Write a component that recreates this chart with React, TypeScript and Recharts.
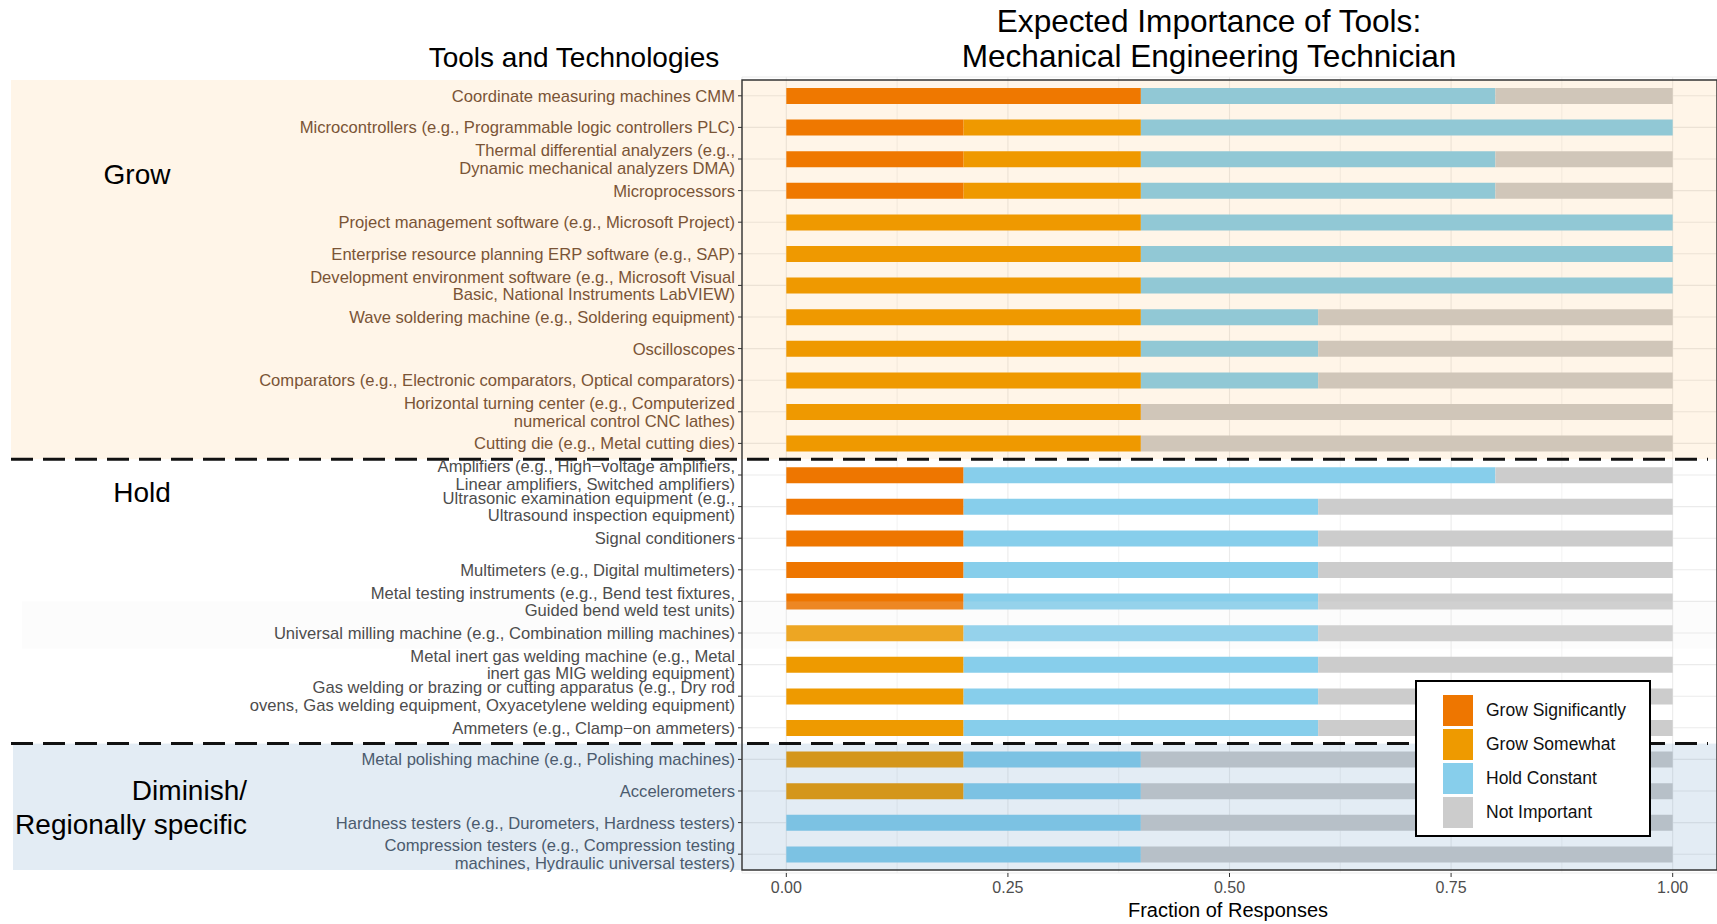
import React from 'react';
import {
  BarChart, Bar, XAxis, YAxis, CartesianGrid, ReferenceArea, ReferenceLine, Legend,
} from 'recharts';

const categories: string[] = [
  'Coordinate measuring machines CMM',
  'Microcontrollers (e.g., Programmable logic controllers PLC)',
  'Thermal differential analyzers (e.g.,\nDynamic mechanical analyzers DMA)',
  'Microprocessors',
  'Project management software (e.g., Microsoft Project)',
  'Enterprise resource planning ERP software (e.g., SAP)',
  'Development environment software (e.g., Microsoft Visual\nBasic, National Instruments LabVIEW)',
  'Wave soldering machine (e.g., Soldering equipment)',
  'Oscilloscopes',
  'Comparators (e.g., Electronic comparators, Optical comparators)',
  'Horizontal turning center (e.g., Computerized\nnumerical control CNC lathes)',
  'Cutting die (e.g., Metal cutting dies)',
  'Amplifiers (e.g., High\u2212voltage amplifiers,\nLinear amplifiers, Switched amplifiers)',
  'Ultrasonic examination equipment (e.g.,\nUltrasound inspection equipment)',
  'Signal conditioners',
  'Multimeters (e.g., Digital multimeters)',
  'Metal testing instruments (e.g., Bend test fixtures,\nGuided bend weld test units)',
  'Universal milling machine (e.g., Combination milling machines)',
  'Metal inert gas welding machine (e.g., Metal\ninert gas MIG welding equipment)',
  'Gas welding or brazing or cutting apparatus (e.g., Dry rod\novens, Gas welding equipment, Oxyacetylene welding equipment)',
  'Ammeters (e.g., Clamp\u2212on ammeters)',
  'Metal polishing machine (e.g., Polishing machines)',
  'Accelerometers',
  'Hardness testers (e.g., Durometers, Hardness testers)',
  'Compression testers (e.g., Compression testing\nmachines, Hydraulic universal testers)',
];

const groups: string[] = [
  'Grow', 'Grow', 'Grow', 'Grow', 'Grow', 'Grow', 'Grow', 'Grow', 'Grow', 'Grow', 'Grow', 'Grow',
  'Hold', 'Hold', 'Hold', 'Hold', 'Hold', 'Hold', 'Hold', 'Hold', 'Hold',
  'Diminish', 'Diminish', 'Diminish', 'Diminish',
];

const growSignificantly: number[] = [0.4, 0.2, 0.2, 0.2, 0, 0, 0, 0, 0, 0, 0, 0, 0.2, 0.2, 0.2, 0.2, 0.2, 0, 0, 0, 0, 0, 0, 0, 0];
const growSomewhat: number[] = [0, 0.2, 0.2, 0.2, 0.4, 0.4, 0.4, 0.4, 0.4, 0.4, 0.4, 0.4, 0, 0, 0, 0, 0, 0.2, 0.2, 0.2, 0.2, 0.2, 0.2, 0, 0];
const holdConstant: number[] = [0.4, 0.6, 0.4, 0.4, 0.6, 0.6, 0.6, 0.2, 0.2, 0.2, 0, 0, 0.6, 0.4, 0.4, 0.4, 0.4, 0.4, 0.4, 0.4, 0.4, 0.2, 0.2, 0.4, 0.4];
const notImportant: number[] = [0.2, 0, 0.2, 0.2, 0, 0, 0, 0.4, 0.4, 0.4, 0.6, 0.6, 0.2, 0.4, 0.4, 0.4, 0.4, 0.4, 0.4, 0.4, 0.4, 0.6, 0.6, 0.6, 0.6];

const xTicks: number[] = [0, 0.25, 0.5, 0.75, 1];
const xMinor: number[] = [0.125, 0.375, 0.625, 0.875];

const seriesNames: string[] = ['Grow Significantly', 'Grow Somewhat', 'Hold Constant', 'Not Important'];
const seriesColors: string[] = ['#EE7600', '#EE9A00', '#87CEEB', '#CCCCCC'];

const data = categories.map((c, i) => ({
  name: c,
  gs: growSignificantly[i],
  gsw: growSomewhat[i],
  hc: holdConstant[i],
  ni: notImportant[i],
}));

const FONT = '"Liberation Sans", Arial, sans-serif';
const textColors: Record<string, string> = { Grow: '#7A5436', Hold: '#4D4D4D', Diminish: '#4B5B6E' };

const YTick = (props: any) => {
  const { x, y, payload } = props;
  const i = categories.indexOf(payload.value);
  const lines = String(payload.value).split('\n');
  const lh = 17.5;
  const y0 = y - ((lines.length - 1) * lh) / 2;
  const color = textColors[groups[i]] || '#4D4D4D';
  return (
    <text x={x} y={y0} textAnchor="end" fill={color} fontSize={16.6} fontFamily={FONT}>
      {lines.map((l, k) => (
        <tspan key={k} x={x} y={y0 + k * lh} dy="0.36em">{l}</tspan>
      ))}
    </text>
  );
};

const GrowShape = (p: any) => (
  <g>
    <rect x={11} y={p.y} width={1717 - 11} height={p.height} fill="#FF8C00" fillOpacity={0.09} />
    <line x1={11} x2={1708} y1={p.y + p.height} y2={p.y + p.height} stroke="#111" strokeWidth={3} strokeDasharray="22 10" />
  </g>
);

const DimShape = (p: any) => (
  <g>
    <rect x={13} y={p.y} width={1717 - 13} height={p.height} fill="#4682B4" fillOpacity={0.15} />
    <line x1={11} x2={1708} y1={p.y} y2={p.y} stroke="#111" strokeWidth={3} strokeDasharray="22 10" />
  </g>
);

const GreyShape = (p: any) => (
  <rect x={22} y={p.y + p.height * 0.25} width={1717 - 22} height={p.height * 0.75} fill="#EEEEEE" fillOpacity={0.15} />
);

const LegendBox = (props: any) => {
  const payload = props.payload || [];
  return (
    <div style={{
      width: 236, height: 157, boxSizing: 'border-box', border: '2px solid #000', background: '#fff',
      paddingTop: 11, paddingLeft: 26, fontFamily: FONT,
    }}>
      {payload.map((item: any, k: number) => (
        <div key={k} style={{ display: 'flex', alignItems: 'center', height: 34 }}>
          <span style={{ display: 'inline-block', width: 30, height: 31, background: item.color }} />
          <span style={{ marginLeft: 13, fontSize: 17.5, color: '#111' }}>{item.value}</span>
        </div>
      ))}
    </div>
  );
};

const txt = (s: string, cx: number, cy: number, size: number, align: 'center' | 'right' = 'center', color = '#000') => {
  const h = size * 1.3;
  const w = 900;
  const left = align === 'center' ? cx - w / 2 : cx - w;
  return (
    <div style={{
      position: 'absolute', left, top: cy - h / 2, width: w, height: h, lineHeight: `${h}px`,
      textAlign: align, fontSize: size, fontFamily: FONT, color, whiteSpace: 'nowrap', pointerEvents: 'none',
    }}>{s}</div>
  );
};

export default function App() {
  return (
    <div style={{ position: 'relative', width: 1717, height: 924, background: '#fff', overflow: 'hidden' }}>
      <style>{'body{margin:0}'}</style>
      <BarChart
        width={1717}
        height={924}
        data={data}
        layout="vertical"
        margin={{ top: 77, right: 0, bottom: 0, left: 0 }}
        barSize={16}
      >
        <CartesianGrid stroke="#EBEBEB" strokeWidth={1.1} />
        {xMinor.map((v) => (
          <ReferenceLine key={v} x={v} stroke="#EBEBEB" strokeWidth={0.6} zIndex={-90} />
        ))}
        <Bar dataKey="gs" name={seriesNames[0]} stackId="a" fill={seriesColors[0]} isAnimationActive={false} />
        <Bar dataKey="gsw" name={seriesNames[1]} stackId="a" fill={seriesColors[1]} isAnimationActive={false} />
        <Bar dataKey="hc" name={seriesNames[2]} stackId="a" fill={seriesColors[2]} isAnimationActive={false} />
        <Bar dataKey="ni" name={seriesNames[3]} stackId="a" fill={seriesColors[3]} isAnimationActive={false} />
        <ReferenceArea y1={categories[0]} y2={categories[11]} ifOverflow="visible" shape={GrowShape} zIndex={450} />
        <ReferenceArea y1={categories[16]} y2={categories[17]} ifOverflow="visible" shape={GreyShape} zIndex={450} />
        <ReferenceArea y1={categories[21]} y2={categories[24]} ifOverflow="visible" shape={DimShape} zIndex={450} />
        <ReferenceArea x1={-0.05} x2={1.05} ifOverflow="visible" fill="none" stroke="#333" strokeWidth={1.4} zIndex={460} />
        <XAxis
          type="number"
          domain={[-0.05, 1.05]}
          ticks={xTicks}
          tickFormatter={(v: number) => v.toFixed(2)}
          height={51}
          tickSize={4}
          tickMargin={5}
          axisLine={false}
          tickLine={{ stroke: '#333' }}
          tick={{ fill: '#4D4D4D', fontSize: 16, fontFamily: FONT }}
        />
        <YAxis
          type="category"
          dataKey="name"
          width={742}
          interval={0}
          padding={{ top: 3, bottom: 3 }}
          tickSize={4}
          tickMargin={3}
          axisLine={false}
          tickLine={{ stroke: '#333' }}
          tick={<YTick />}
        />
        <Legend
          layout="vertical"
          align="center"
          verticalAlign="middle"
          content={<LegendBox />}
          wrapperStyle={{ position: 'absolute', left: 1415, top: 680, width: 236, height: 157 }}
        />
      </BarChart>
      {txt('Expected Importance of Tools:', 1209, 22, 31.6)}
      {txt('Mechanical Engineering Technician', 1209, 57, 31.6)}
      {txt('Tools and Technologies', 574, 58, 28)}
      {txt('Grow', 137, 175, 28)}
      {txt('Hold', 142, 493, 28)}
      {txt('Diminish/', 247, 791, 28, 'right')}
      {txt('Regionally specific', 247, 825, 28, 'right')}
      {txt('Fraction of Responses', 1228, 910, 20)}
    </div>
  );
}
